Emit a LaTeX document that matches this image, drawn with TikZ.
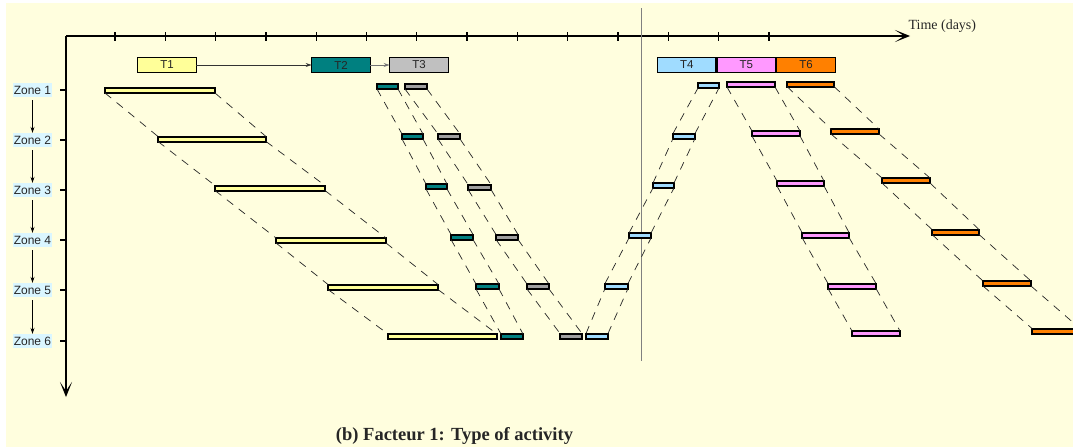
\documentclass[tikz,border=0pt]{standalone}
\usepackage{fontspec}
\setmainfont{Liberation Serif}
\newfontfamily\arialfont{Liberation Sans}
\usetikzlibrary{arrows.meta}

\definecolor{paper}{RGB}{255,254,222}
\definecolor{zonebg}{RGB}{218,246,255}
\definecolor{tyellow}{RGB}{255,255,153}
\definecolor{tteal}{RGB}{0,128,128}
\definecolor{tgrey}{RGB}{192,192,192}
\definecolor{tgreybar}{RGB}{160,160,160}
\definecolor{tblue}{RGB}{160,220,255}
\definecolor{tpink}{RGB}{255,153,255}
\definecolor{torange}{RGB}{255,128,0}

\tikzset{
  axis/.style={line width=1.8pt, -{Stealth[length=15pt,width=12pt,inset=9pt]}},
  bar/.style={draw=black, line width=2pt, minimum height=5pt, inner sep=0pt, outer sep=0pt},
  legendbox/.style={draw=black, line width=1.2pt, minimum height=15pt, inner sep=0pt, outer sep=0pt,
    font=\arialfont\fontsize{11.5}{12}\selectfont, text=black!85},
  zonelab/.style={fill=zonebg, inner xsep=1pt, inner ysep=0pt, minimum height=14pt,
    font=\arialfont\fontsize{12}{13}\selectfont, text=black!85},
  zonearrow/.style={line width=0.8pt, -{Stealth[length=6pt,width=4pt]}, shorten <=3pt},
  link/.style={dash pattern=on 8pt off 7pt, line width=0.7pt, black!85},
}

% a task bar: name, fill, left x, right x, centre y
\newcommand\taskbar[5]{\node[bar,fill=#2,minimum width={(#4-#3-2)*1pt}] (#1) at ({(#3+#4)/2},#5) {};}
% a legend box: name, fill, left x, right x, label
\newcommand\legendtask[5]{\node[legendbox,fill=#2,minimum width={(#4-#3-1.2)*1pt}] (#1) at ({(#3+#4)/2},65) {#5};}

\begin{document}
\begin{tikzpicture}[x=1pt,y=-1pt]
\useasboundingbox (0,0) rectangle (1073,447);
\clip (0,0) rectangle (1073,447);
\fill[paper] (6,3) rectangle (1073,447);

% axes
\coordinate (origin) at (66,36);
\coordinate (tend) at (910,36);
\coordinate (zend) at (66,397);
\draw[axis] (origin) -- (tend);
\draw[axis] (origin) -- (zend);
\foreach \k in {0,...,13} {
  \draw[line width=1.3pt] ({115+50.3*\k},32) -- ({115+50.3*\k},41);
}
\node[anchor=base west, font=\fontsize{14}{16}\selectfont, text=black!85] (tlabel) at (905,29.3) {Time (days)};

% zones
\foreach \i/\y in {1/90,2/140,3/190,4/240,5/290,6/341} {
  \draw[line width=1.3pt] (60,\y) -- (66,\y);
  \node[zonelab] (zone\i) at (32.5,\y) {Zone \i};
}
\foreach \a/\b in {1/2,2/3,3/4,4/5,5/6} {
  \draw[zonearrow] (zone\a.south) -- (zone\b.north);
}

% today line
\draw[gray, line width=1pt] (641,8) -- (641,361);

% legend of tasks
\legendtask{T1}{tyellow}{137}{197}{T1}
\legendtask{T2}{tteal}{311}{371}{T2}
\legendtask{T3}{tgrey}{389}{449}{T3}
\legendtask{T4}{tblue}{657}{716.5}{T4}
\legendtask{T5}{tpink}{716.5}{776}{T5}
\legendtask{T6}{torange}{776}{836}{T6}
\draw[line width=0.8pt, black!80, -{Stealth[length=6pt,width=4pt]}] (T1) -- (T2);
\draw[line width=1pt, black!55, -{Stealth[length=6pt,width=4pt]}] (T2) -- (T3);

% T1 bars
\taskbar{a1}{tyellow}{104}{216}{90.5}
\taskbar{a2}{tyellow}{157}{267}{139}
\taskbar{a3}{tyellow}{214}{326}{188}
\taskbar{a4}{tyellow}{275}{387}{240.5}
\taskbar{a5}{tyellow}{327}{439}{287}
\taskbar{a6}{tyellow}{387}{498}{336.5}

% T2 bars
\taskbar{b1}{tteal}{376}{399}{86.5}
\taskbar{b2}{tteal}{401}{424}{136.5}
\taskbar{b3}{tteal}{425}{448}{186.5}
\taskbar{b4}{tteal}{450}{474}{237}
\taskbar{b5}{tteal}{475}{500}{286.5}
\taskbar{b6}{tteal}{500}{524}{336.5}

% T3 bars
\taskbar{c1}{tgreybar}{404}{428}{86.5}
\taskbar{c2}{tgreybar}{437}{461}{136.5}
\taskbar{c3}{tgreybar}{467}{492}{187}
\taskbar{c4}{tgreybar}{495}{519}{237}
\taskbar{c5}{tgreybar}{526}{550}{286.5}
\taskbar{c6}{tgreybar}{559}{583}{336}

% T4 bars
\taskbar{d1}{tblue}{697}{720}{85.5}
\taskbar{d2}{tblue}{672}{696}{136}
\taskbar{d3}{tblue}{652}{675}{185.5}
\taskbar{d4}{tblue}{628}{652}{235.5}
\taskbar{d5}{tblue}{604}{629}{286}
\taskbar{d6}{tblue}{585}{609}{336}

% T5 bars
\taskbar{e1}{tpink}{726}{776}{84.5}
\taskbar{e2}{tpink}{751}{801}{133.5}
\taskbar{e3}{tpink}{776}{825}{183.5}
\taskbar{e4}{tpink}{801}{850}{235}
\taskbar{e5}{tpink}{827}{877}{286}
\taskbar{e6}{tpink}{851}{901}{333.5}

% T6 bars
\taskbar{f1}{torange}{786}{835}{84}
\taskbar{f2}{torange}{830}{880}{131.5}
\taskbar{f3}{torange}{881}{931}{180.5}
\taskbar{f4}{torange}{931}{980}{232}
\taskbar{f5}{torange}{982}{1032}{283.5}
\taskbar{f6}{torange}{1031}{1081}{331}

% zone-to-zone links of each task
\foreach \t in {a,b,c,e,f} {
  \foreach \p/\q in {1/2,2/3,3/4,4/5,5/6} {
    \draw[link] (\t\p.south west) -- (\t\q.north west);
    \draw[link] (\t\p.south east) -- (\t\q.north east);
  }
}
\foreach \p/\q in {6/5,5/4,4/3,3/2,2/1} {
  \draw[link] (d\p.north west) -- (d\q.south west);
  \draw[link] (d\p.north east) -- (d\q.south east);
}

% caption
\node[anchor=base, font=\bfseries\fontsize{18.5}{20}\selectfont, text=black!85] (caption) at (454.5,440) {(b) Facteur 1: Type of activity};
\end{tikzpicture}
\end{document}
